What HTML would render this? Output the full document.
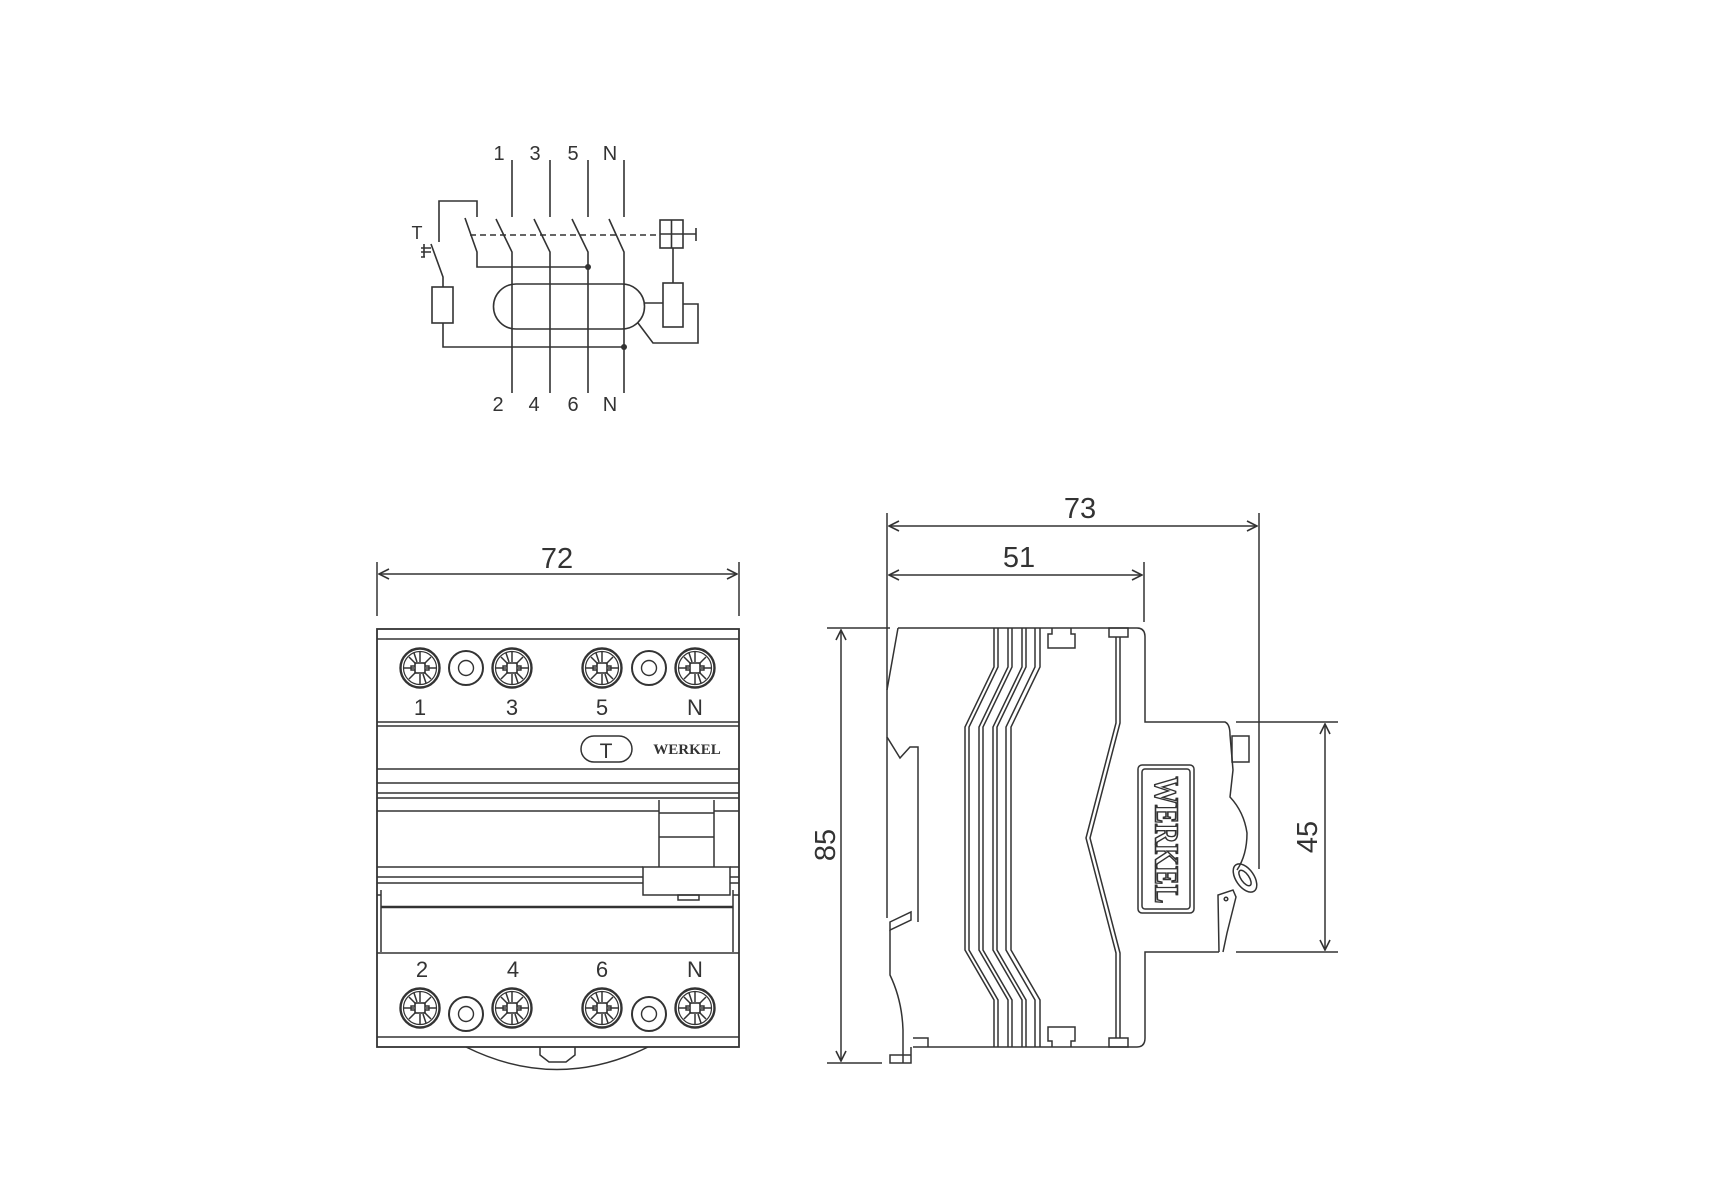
<!DOCTYPE html>
<html><head><meta charset="utf-8"><style>
html,body{margin:0;padding:0;background:#fff}
svg{display:block}
text{font-family:"Liberation Sans",sans-serif;fill:#333}
</style></head><body>
<svg width="1715" height="1200" viewBox="0 0 1715 1200" xmlns="http://www.w3.org/2000/svg">
<defs>
<marker id="ar" viewBox="0 0 12 12" refX="11" refY="6" markerWidth="12" markerHeight="12" markerUnits="userSpaceOnUse" orient="auto-start-reverse">
<path d="M1,1 L11,6 L1,11" fill="none" stroke="#333" stroke-width="1.6"/>
</marker>
<g id="scr" fill="none" stroke="#333">
<circle r="19.5" stroke-width="2.4"/>
<circle r="16.5" stroke-width="1.2"/>
<path d="M0,-6V-16 M0,6V16 M-6,0H-16 M6,0H16 M4,-4L11,-11 M-4,4L-11,11 M-4,-4L-11,-11 M4,4L11,11 M-3,-6L-6,-15 M3,6L6,15" stroke-width="1.5"/>
<rect x="-5" y="-5" width="10" height="10" stroke-width="1.6"/>
<path d="M-5,-2H-9V2H-5 M5,-2H9V2H5" stroke-width="1.4"/>
</g>
<g id="ring" fill="none" stroke="#333">
<circle r="17" stroke-width="2"/>
<circle r="7.5" stroke-width="1.4"/>
</g>
</defs>

<!-- ===== Schematic ===== -->
<g fill="none" stroke="#333" stroke-width="1.6">
<path d="M512,160V217 M550,160V217 M588,160V217 M624,160V217"/>
<path d="M496,219L512,252V393 M534,219L550,252V393 M572,219L588,252V393 M609,219L624,252V393"/>
<path d="M470,235H660" stroke-dasharray="6,4"/>
<rect x="660" y="220" width="23" height="28"/>
<path d="M671.5,220V248 M660,234H696 M696,228V241"/>
<path d="M439,242V201H477V217"/>
<path d="M465,218L477,252V267H588"/>
<path d="M431,244L443,277V287"/>
<path d="M431,248H421 M424,244V257 M421,252H431 M421,257H425"/>
<rect x="432" y="287" width="21" height="36"/>
<path d="M443,323V347H624"/>
<path d="M516,284H622A22,22 0 0 1 622,329H516A22,22 0 0 1 516,284Z"/>
<path d="M644,303H663"/>
<rect x="663" y="283" width="20" height="44"/>
<path d="M673,248V283"/>
<path d="M683,304H698V343H653L638,323"/>
</g>
<circle cx="588" cy="267" r="3" fill="#333"/>
<circle cx="624" cy="347" r="3" fill="#333"/>
<g font-size="20" text-anchor="middle" style="font-weight:300">
<text x="499" y="160">1</text><text x="535" y="160">3</text><text x="573" y="160">5</text><text x="610" y="160">N</text>
<text x="498" y="411">2</text><text x="534" y="411">4</text><text x="573" y="411">6</text><text x="610" y="411">N</text>
<text x="417" y="239" font-size="18">T</text>
</g>

<!-- ===== Front view ===== -->
<g fill="none" stroke="#333" stroke-width="1.5">
<path d="M377,562V616 M739,562V616"/>
<path d="M379,574H737" marker-start="url(#ar)" marker-end="url(#ar)"/>
<rect x="377" y="629" width="362" height="418" stroke-width="1.8"/>
<path d="M377,639H739 M377,722H739 M377,726H739 M377,769H739 M377,783H739 M377,793H739 M377,798H739 M377,811H659 M714,811H739"/>
<rect x="581" y="736" width="51" height="26" rx="13"/>
<path d="M659,800V867 M714,800V867 M659,813H714 M659,837H714"/>
<path d="M377,867H643 M730,867H739 M377,877H643 M730,877H739 M377,883H643 M730,883H739"/>
<rect x="643" y="867" width="87" height="28"/>
<rect x="678" y="895" width="21" height="5"/>
<path d="M381,890V952 M733,890V952 M377,895H381 M733,895H739"/>
<path d="M381,907H733" stroke-width="2.5"/>
<path d="M377,953H739 M377,1037H739"/>
<path d="M466,1047Q557,1092 648,1047 M540,1047V1055L549,1062H566L575,1055V1047"/>
</g>
<use href="#scr" x="420" y="668"/><use href="#ring" x="466" y="668"/><use href="#scr" x="512" y="668"/>
<use href="#scr" x="602" y="668"/><use href="#ring" x="649" y="668"/><use href="#scr" x="695" y="668"/>
<use href="#scr" x="420" y="1008"/><use href="#ring" x="466" y="1014"/><use href="#scr" x="512" y="1008"/>
<use href="#scr" x="602" y="1008"/><use href="#ring" x="649" y="1014"/><use href="#scr" x="695" y="1008"/>
<g font-size="22" text-anchor="middle" style="font-weight:300">
<text x="420" y="715">1</text><text x="512" y="715">3</text><text x="602" y="715">5</text><text x="695" y="715">N</text>
<text x="422" y="977">2</text><text x="513" y="977">4</text><text x="602" y="977">6</text><text x="695" y="977">N</text>
<text x="557" y="568" font-size="29">72</text>
<text x="606" y="758" font-size="21">T</text>
</g>
<text x="687" y="754" font-size="15" text-anchor="middle" style="font-family:'Liberation Serif',serif;font-weight:bold">WERKEL</text>

<!-- ===== Side view ===== -->
<g fill="none" stroke="#333" stroke-width="1.5">
<path d="M887,513V690 M1259,513V869 M1144,562V622"/>
<path d="M889,526H1257" marker-start="url(#ar)" marker-end="url(#ar)"/>
<path d="M889,575H1142" marker-start="url(#ar)" marker-end="url(#ar)"/>
<path d="M827,628H890 M827,1063H882"/>
<path d="M841,630V1061" marker-start="url(#ar)" marker-end="url(#ar)"/>
<path d="M1236,722H1338 M1236,952H1338"/>
<path d="M1325,724V950" marker-start="url(#ar)" marker-end="url(#ar)"/>
<path d="M898,628H1137Q1145,628 1145,637V722H1225Q1230,724 1230,735L1233,770L1230,797Q1244,812 1247,833Q1247,855 1237,870"/>
<path d="M1219,952H1145V1038Q1145,1047 1137,1047H913"/>
<path d="M898,628L887,690V737L900,758L910,747H918V922"/>
<path d="M887,737V918 M890,922L911,912V920L890,930Z"/>
<path d="M890,930V975Q902,1000 903,1030V1063 M890,1055H911V1063H890Z M911,1047V1063 M913,1038H928V1047"/>
<path d="M994,628V667L965,727V950L994,1000V1047 M998,628V667L969,727V950L998,1000V1047
M1008,628V667L979,727V950L1008,1000V1047 M1012,628V667L983,727V950L1012,1000V1047
M1022,628V667L993,727V950L1022,1000V1047 M1026,628V667L997,727V950L1026,1000V1047
M1035,628V667L1006,727V950L1035,1000V1047 M1040,628V667L1011,727V950L1040,1000V1047"/>
<path d="M1052,628V634H1048V648H1075V634H1071V628"/>
<path d="M1052,1047V1041H1048V1027H1075V1041H1071V1047"/>
<rect x="1109" y="628" width="19" height="9"/>
<rect x="1109" y="1038" width="19" height="9"/>
<path d="M1116,637V723L1086,838L1116,953V1038 M1120,637V723L1090,838L1120,953V1038"/>
<rect x="1232" y="736" width="17" height="26"/>
<ellipse cx="1245" cy="878" rx="16" ry="9" transform="rotate(55 1245 878)"/>
<ellipse cx="1245" cy="878" rx="9" ry="4" transform="rotate(55 1245 878)"/>
<path d="M1219,952L1218,895L1233,890L1236,897L1227,933L1223,952"/>
<circle cx="1226" cy="899" r="1.8"/>
<rect x="1138" y="765" width="56" height="148" rx="4"/>
<rect x="1142" y="769" width="48" height="140" rx="3"/>
</g>
<text transform="translate(1166,840) rotate(90)" font-size="34" text-anchor="middle" dominant-baseline="central" textLength="127" lengthAdjust="spacingAndGlyphs" style="font-family:'Liberation Serif',serif;font-weight:bold;fill:#fff;stroke:#333;stroke-width:1.6">WERKEL</text>
<g font-size="29" text-anchor="middle" style="font-weight:300">
<text x="1080" y="518">73</text>
<text x="1019" y="567">51</text>
<text transform="translate(826,845) rotate(-90)" dominant-baseline="central">85</text>
<text transform="translate(1308,837) rotate(-90)" dominant-baseline="central">45</text>
</g>
</svg>
</body></html>
